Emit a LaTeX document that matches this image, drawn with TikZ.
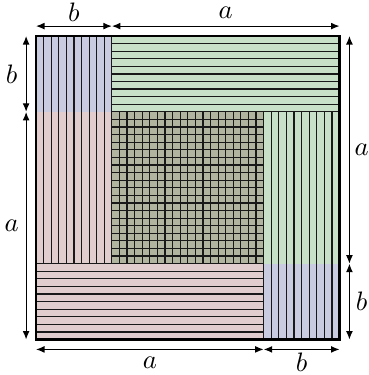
\documentclass[tikz,border=0pt]{standalone}
\usetikzlibrary{arrows.meta}
\definecolor{cblue}{RGB}{201,203,225}
\definecolor{cgreen}{RGB}{200,224,200}
\definecolor{cred}{RGB}{225,205,205}
\definecolor{colive}{RGB}{177,180,158}
\begin{document}
\begin{tikzpicture}[
  hatch/.style={black!90, line width=0.45pt},
  frame/.style={black, line width=0.8pt},
  dimarrow/.style={{Latex[length=3.2pt,width=2.6pt]}-{Latex[length=3.2pt,width=2.6pt]}, line width=0.45pt},
  lbl/.style={inner sep=0pt}]
\useasboundingbox (-0.474,-0.467) rectangle (4.382,4.474);
% fills
\fill[cblue] (0,3) rectangle (1,4);
\fill[cblue] (3,0) rectangle (4,1);
\fill[cgreen] (1,3) rectangle (4,4);
\fill[cgreen] (3,1) rectangle (4,3);
\fill[cred] (0,1) rectangle (1,3);
\fill[cred] (0,0) rectangle (3,1);
\fill[colive] (1,1) rectangle (3,3);
% vertical hatching
\foreach \i in {1,...,10} { \draw[hatch] (\i/10,1) -- (\i/10,4); }
\foreach \i in {0,...,20} { \draw[hatch] (1+\i/10,1) -- (1+\i/10,3); }
\foreach \i in {0,...,10} { \draw[hatch] (3+\i/10,0) -- (3+\i/10,3); }
% horizontal hatching
\foreach \i in {0,...,10} { \draw[hatch] (1,3+\i/10) -- (4,3+\i/10); }
\foreach \i in {0,...,20} { \draw[hatch] (1,1+\i/10) -- (3,1+\i/10); }
\foreach \i in {0,...,10} { \draw[hatch] (0,\i/10) -- (3,\i/10); }
% outer frame
\draw[frame] (0,0) rectangle (4,4);
% dimension coordinates
\coordinate (t0) at (0,4.13);
\coordinate (t1) at (1,4.13);
\coordinate (t2) at (4,4.13);
\coordinate (l0) at (-0.13,4);
\coordinate (l1) at (-0.13,3);
\coordinate (l2) at (-0.13,0);
\coordinate (r0) at (4.13,4);
\coordinate (r1) at (4.13,1);
\coordinate (r2) at (4.13,0);
\coordinate (b0) at (0,-0.13);
\coordinate (b1) at (3,-0.13);
\coordinate (b2) at (4,-0.13);
\draw[dimarrow] (t0) -- (t1);
\draw[dimarrow] (t1) -- (t2);
\draw[dimarrow] (l0) -- (l1);
\draw[dimarrow] (l1) -- (l2);
\draw[dimarrow] (r0) -- (r1);
\draw[dimarrow] (r1) -- (r2);
\draw[dimarrow] (b0) -- (b1);
\draw[dimarrow] (b1) -- (b2);
% labels
\node[lbl] (lt1) at (0.5,4.31) {$b$};
\node[lbl] (lt2) at (2.5,4.31) {$a$};
\node[lbl] (ll1) at (-0.32,3.5) {$b$};
\node[lbl] (ll2) at (-0.32,1.5) {$a$};
\node[lbl] (lr1) at (4.29,2.5) {$a$};
\node[lbl] (lr2) at (4.29,0.5) {$b$};
\node[lbl] (lb1) at (1.5,-0.3) {$a$};
\node[lbl] (lb2) at (3.5,-0.3) {$b$};
\end{tikzpicture}
\end{document}
